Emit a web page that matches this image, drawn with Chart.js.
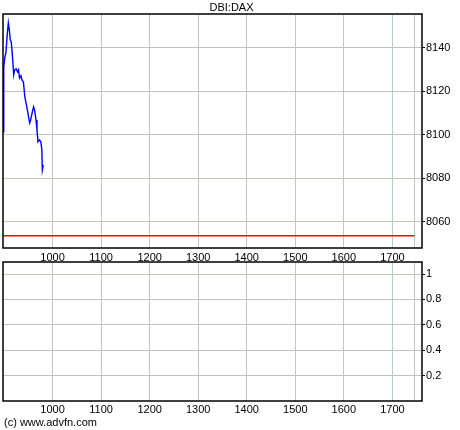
<!DOCTYPE html>
<html>
<head>
<meta charset="utf-8">
<script src="https://cdn.jsdelivr.net/npm/chart.js@4"></script>
<style>
  html, body { margin: 0; padding: 0; background: #fff; width: 460px; height: 430px; overflow: hidden; }
  #top { position: absolute; left: 0; top: 0; }
  #bottom { position: absolute; left: 0; top: 261px; }
  #footer { position: absolute; left: 4px; top: 416px; font: 11px "Liberation Sans", Arial, sans-serif; color: #000; white-space: nowrap; }
</style>
</head>
<body>
<canvas id="top" width="460" height="262"></canvas>
<canvas id="bottom" width="460" height="169"></canvas>
<div id="footer">(c) www.advfn.com</div>
<script>
// ---- data ----
const chartTitle = 'DBI:DAX';
const priceX = [898, 899, 900, 902, 904, 907, 909, 911, 913, 915, 917, 920, 922, 925, 928, 930, 932, 935, 937, 940, 943, 947, 950, 953, 955, 958, 961, 963, 966, 968, 970, 973, 976, 978, 979, 981];
const priceY = [8101.4, 8116.1, 8131.3, 8135.9, 8137.7, 8146.9, 8151.5, 8148.3, 8143.7, 8142.8, 8137.7, 8127.6, 8129.9, 8130.4, 8129.0, 8129.9, 8126.2, 8127.2, 8125.3, 8124.4, 8117.5, 8112.9, 8109.2, 8105.5, 8106.9, 8110.1, 8112.9, 8111.5, 8106.9, 8102.3, 8096.8, 8097.7, 8096.8, 8093.1, 8083.9, 8086.2];
const refLineX = [898, 1745];
const refLineY = [8053.6, 8053.6];
const xTicks = [1000, 1100, 1200, 1300, 1400, 1500, 1600, 1700];
const xEndMark = 1745;
const xMin = 898, xMax = 1761;
const priceTicks = [8050, 8060, 8070, 8080, 8090, 8100, 8110, 8120, 8130, 8140, 8150];
const priceMin = 8048, priceMax = 8155.6;
const lowerTicks = [0.1, 0.2, 0.3, 0.4, 0.5, 0.6, 0.7, 0.8, 0.9, 1.0];
const lowerMin = 0, lowerMax = 1.095;

// ---- styling ----
const FONT = { family: '"Liberation Sans", Arial, sans-serif', size: 11 };
const HGRID = '#c4c4b6';
const VGRID = '#b4cccc';

const frame = {
  id: 'frame',
  afterDraw(chart) {
    const a = chart.chartArea, c = chart.ctx;
    c.save();
    c.strokeStyle = '#000';
    c.lineWidth = 1.5;
    c.strokeRect(a.left, a.top, a.right - a.left, a.bottom - a.top);
    c.restore();
  }
};

function noAutoPadding(s) {
  s.paddingTop = 0; s.paddingBottom = 0; s.paddingLeft = 0; s.paddingRight = 0;
}

const xTickList = xTicks.concat([xEndMark]);
function xScale(pad) {
  return {
    type: 'linear', position: 'bottom', min: xMin, max: xMax, display: true,
    afterBuildTicks: s => { s.ticks = xTickList.map(v => ({ value: v })); },
    afterFit: s => { s.height = 14; noAutoPadding(s); },
    grid: { color: VGRID, drawTicks: false, lineWidth: 1 },
    border: { display: false },
    ticks: {
      font: FONT, color: '#000', padding: pad, autoSkip: false, maxRotation: 0,
      callback: v => (xTicks.includes(v) ? String(v) : '')
    }
  };
}

Chart.defaults.font.family = FONT.family;
Chart.defaults.font.size = 11;

new Chart(document.getElementById('top'), {
  type: 'line',
  data: {
    datasets: [
      { data: priceX.map((x, i) => ({ x, y: priceY[i] })), borderColor: '#0000ff', borderWidth: 1.4, pointRadius: 0, tension: 0, fill: false },
      { data: refLineX.map((x, i) => ({ x, y: refLineY[i] })), borderColor: '#ff0000', borderWidth: 1.4, pointRadius: 0, fill: false }
    ]
  },
  options: {
    responsive: false, animation: false, devicePixelRatio: 1,
    layout: { padding: { left: 3, right: 0, top: 0, bottom: 0 } },
    plugins: {
      legend: { display: false }, tooltip: { enabled: false },
      title: { display: true, text: chartTitle, color: '#000', font: { family: FONT.family, size: 11, weight: 'normal', lineHeight: 1 }, padding: { top: 2, bottom: 1 } }
    },
    scales: {
      x: xScale(3),
      y: {
        type: 'linear', position: 'right', min: priceMin, max: priceMax, display: true,
        afterBuildTicks: s => { s.ticks = priceTicks.map(v => ({ value: v })); },
        afterFit: s => { s.width = 38; noAutoPadding(s); },
        grid: {
          color: ctx => (ctx.tick && ctx.tick.value % 20 === 0 ? HGRID : 'rgba(0,0,0,0)'),
          tickColor: ctx => (ctx.tick && ctx.tick.value % 20 === 0 ? '#000' : 'rgba(0,0,0,0)'),
          tickLength: 3, drawTicks: true
        },
        border: { display: false },
        ticks: { font: FONT, color: '#000', padding: 1, autoSkip: false, callback: v => (v % 20 === 0 ? String(v) : '') }
      }
    }
  },
  plugins: [frame]
});

new Chart(document.getElementById('bottom'), {
  type: 'line',
  data: { datasets: [{ data: [], borderWidth: 0, pointRadius: 0 }] },
  options: {
    responsive: false, animation: false, devicePixelRatio: 1,
    layout: { padding: { left: 3, right: 0, top: 1, bottom: 15 } },
    plugins: { legend: { display: false }, tooltip: { enabled: false }, title: { display: false } },
    scales: {
      x: xScale(2),
      y: {
        type: 'linear', position: 'right', min: lowerMin, max: lowerMax, display: true,
        afterBuildTicks: s => { s.ticks = lowerTicks.map(v => ({ value: v })); },
        afterFit: s => { s.width = 38; noAutoPadding(s); },
        grid: {
          color: ctx => (ctx.tick && Math.round(ctx.tick.value * 10) % 2 === 0 ? HGRID : 'rgba(0,0,0,0)'),
          tickColor: ctx => (ctx.tick && Math.round(ctx.tick.value * 10) % 2 === 0 ? '#000' : 'rgba(0,0,0,0)'),
          tickLength: 3, drawTicks: true
        },
        border: { display: false },
        ticks: {
          font: FONT, color: '#000', padding: 1, autoSkip: false,
          callback: v => (Math.round(v * 10) % 2 === 0 ? String(Math.round(v * 10) / 10) : '')
        }
      }
    }
  },
  plugins: [frame]
});
</script>
</body>
</html>
